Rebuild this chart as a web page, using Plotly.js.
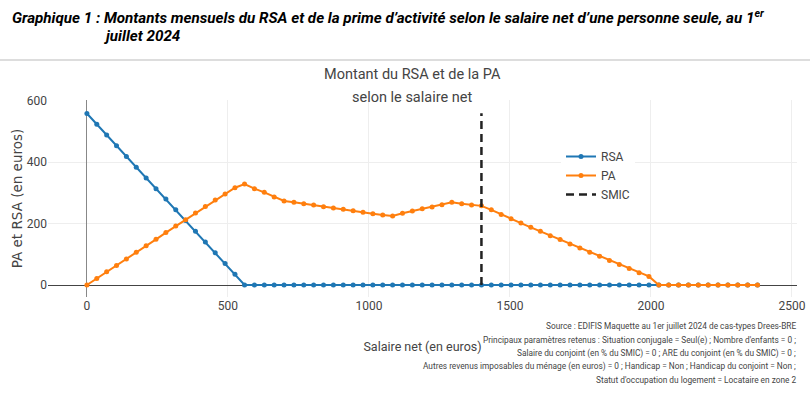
<!DOCTYPE html>
<html>
<head>
<meta charset="utf-8">
<script src="https://cdn.plot.ly/plotly-3.0.1.min.js"></script>
<style>
  html, body { margin: 0; padding: 0; background: #fff; }
  #chart { width: 810px; height: 396px; }
</style>
</head>
<body>
<div id="chart"></div>
<script>
// Salaire net (euros) — x values of the points
const salaire = [0, 35, 70, 105, 140, 175, 210, 245, 280, 315, 350, 385, 420, 455, 490, 525, 559,
  594, 629, 664, 699, 734, 769, 804, 839, 874, 909, 944, 979, 1014, 1049, 1084, 1119, 1154, 1189,
  1224, 1259, 1294, 1329, 1364, 1399, 1434, 1469, 1504, 1539, 1574, 1608, 1643, 1678, 1713, 1748,
  1783, 1818, 1853, 1888, 1923, 1958, 1993, 2028, 2063, 2098, 2133, 2168, 2203, 2238, 2273, 2308,
  2343, 2378];

// RSA (euros)
const rsa = [559, 524, 489, 454, 419, 384, 349, 314, 280, 245, 210, 175, 140, 105, 70, 35, 0,
  0, 0, 0, 0, 0, 0, 0, 0, 0, 0, 0, 0, 0, 0, 0, 0, 0, 0, 0, 0, 0, 0, 0, 0,
  0, 0, 0, 0, 0, 0, 0, 0, 0, 0, 0, 0, 0, 0, 0, 0, 0, 0,
  0, 0, 0, 0, 0, 0, 0, 0, 0, 0];

// Prime d'activité (euros)
const pa = [0, 21, 43, 64, 85, 107, 128, 149, 171, 192, 213, 235, 256, 277, 297, 317, 329,
  314, 302, 287, 274, 270, 265, 261, 255, 251, 247, 242, 237, 232, 228, 225, 234, 241, 249, 254, 262, 270, 265, 261, 258,
  245, 230, 216, 202, 188, 175, 161, 148, 134, 121, 107, 94, 80, 67, 54, 40, 28, 0,
  0, 0, 0, 0, 0, 0, 0, 0, 0, 0];

// SMIC line
const smicX = [1399, 1399];
const smicY = [0, 560];

const xTicks = [0, 500, 1000, 1500, 2000, 2500];
const yTicks = [0, 200, 400, 600];

const headerLine1 = "Graphique 1 : Montants mensuels du RSA et de la prime d’activité selon le salaire net d’une personne seule, au 1<sup>er</sup>";
const headerLine2 = "juillet 2024";
const chartTitle1 = "Montant du RSA et de la PA";
const chartTitle2 = "selon le salaire net";
const notes = [
  "Source : EDIFIS Maquette au 1er juillet 2024 de cas-types Drees-BRE",
  "Principaux paramètres retenus : Situation conjugale = Seul(e) ; Nombre d'enfants = 0 ;",
  "Salaire du conjoint (en % du SMIC) = 0 ; ARE du conjoint (en % du SMIC) = 0 ;",
  "Autres revenus imposables du ménage (en euros) = 0 ; Handicap = Non ; Handicap du conjoint = Non ;",
  "Statut d'occupation du logement = Locataire en zone 2"
];

const FONT = "Roboto, sans-serif";

const traces = [
  { x: salaire, y: rsa, name: "RSA", type: "scatter", mode: "lines+markers",
    line: { color: "#1f77b4", width: 2 }, marker: { color: "#1f77b4", size: 5 } },
  { x: salaire, y: pa, name: "PA", type: "scatter", mode: "lines+markers",
    line: { color: "#ff7f0e", width: 2 }, marker: { color: "#ff7f0e", size: 5 } },
  { x: smicX, y: smicY, name: "SMIC", type: "scatter", mode: "lines",
    line: { color: "#222", width: 2.5, dash: "8px,5px" } }
];

// paper coordinates helpers (plot area: top 100, bottom 297)
const H0 = 297, PH = 197;
function py(px) { return (H0 - px) / PH; }

const annotations = [
  { text: "<b><i>" + headerLine1 + "</i></b>", xref: "paper", yref: "paper",
    x: (10 - 48) / 749, y: py(17), xanchor: "left", yanchor: "middle", showarrow: false,
    font: { family: FONT, size: 15.2, color: "#000" } },
  { text: "<b><i>" + headerLine2 + "</i></b>", xref: "paper", yref: "paper",
    x: (102 - 48) / 749, y: py(36), xanchor: "left", yanchor: "middle", showarrow: false,
    font: { family: FONT, size: 15.2, color: "#000" } },
  { text: chartTitle1, xref: "paper", yref: "paper", x: (412 - 48) / 749, y: py(75),
    xanchor: "center", yanchor: "middle", showarrow: false,
    font: { family: FONT, size: 14.5, color: "#444" } },
  { text: chartTitle2, xref: "paper", yref: "paper", x: (412 - 48) / 749, y: py(97),
    xanchor: "center", yanchor: "middle", showarrow: false,
    font: { family: FONT, size: 14.5, color: "#444" } }
];
const noteY = [326, 340, 353, 366, 380];
notes.forEach((t, i) => {
  annotations.push({ text: t, xref: "paper", yref: "paper", x: (798 - 48) / 749, y: py(noteY[i]),
    xanchor: "right", yanchor: "middle", showarrow: false,
    font: { family: FONT, size: 8.3, color: "#444" } });
});

const layout = {
  width: 810, height: 396,
  margin: { l: 48, r: 13, t: 100, b: 99 },
  paper_bgcolor: "#fff", plot_bgcolor: "#fff",
  showlegend: true,
  legend: { x: (561 - 48) / 749, y: py(142), xanchor: "left", yanchor: "top",
    bgcolor: "#fff", font: { family: FONT, size: 12, color: "#444" }, tracegroupgap: 0 },
  xaxis: {
    range: [-138, 2518], tickvals: xTicks, ticktext: xTicks.map(String),
    showgrid: true, gridcolor: "#eee", zeroline: true, zerolinecolor: "#888", zerolinewidth: 1,
    showline: false, ticks: "",
    tickfont: { family: FONT, size: 12, color: "#444" },
    title: { text: "Salaire net (en euros)", font: { family: FONT, size: 12.5, color: "#444" }, standoff: 30 }
  },
  yaxis: {
    range: [-39, 603], tickvals: yTicks, ticktext: yTicks.map(String),
    showgrid: true, gridcolor: "#eee", zeroline: true, zerolinecolor: "#444", zerolinewidth: 1,
    showline: false, ticks: "",
    tickfont: { family: FONT, size: 12, color: "#444" },
    title: { text: "PA et RSA (en euros)", font: { family: "DejaVu Sans", size: 13.5, color: "#444" }, standoff: 1 }
  },
  shapes: [
    { type: "line", xref: "paper", yref: "paper", x0: -48 / 749, x1: 762 / 749,
      y0: py(60), y1: py(60), line: { color: "#bbb", width: 1 } }
  ],
  annotations: annotations
};

Plotly.newPlot("chart", traces, layout, { displayModeBar: false, staticPlot: true });
</script>
</body>
</html>
